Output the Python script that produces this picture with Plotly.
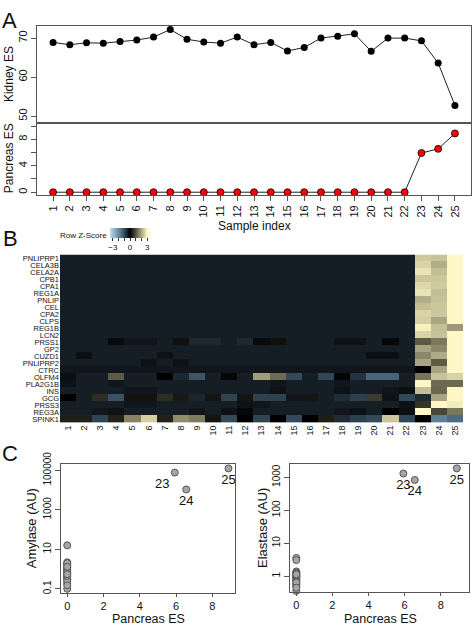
import plotly.graph_objects as go

W, H = 472, 628
FONT = "Liberation Sans, Arial, sans-serif"

# ---------------- data ----------------
samples = list(range(1, 26))
kidney_es = [68.9, 68.3, 68.8, 68.7, 69.1, 69.5, 70.25, 72.2, 69.7, 69.0, 68.7, 70.25, 68.3,
             68.9, 66.7, 67.6, 70.0, 70.5, 71.1, 66.6, 70.0, 70.0, 69.3, 63.6, 52.75]
pancreas_es = [0, 0, 0, 0, 0, 0, 0, 0, 0, 0, 0, 0, 0, 0, 0, 0, 0, 0, 0, 0, 0, 0, 5.93, 6.56, 8.89]

genes = ["PNLIPRP1", "CELA3B", "CELA2A", "CPB1", "CPA1", "REG1A", "PNLIP", "CEL", "CPA2", "CLPS",
         "REG1B", "LCN2", "PRSS1", "GP2", "CUZD1", "PNLIPRP2", "CTRC", "OLFM4", "PLA2G1B", "INS",
         "GCG", "PRSS3", "REG3A", "SPINK1"]

z_PNLIPRP1 = [-.4,-.4,-.4,-.4,-.4,-.4,-.4,-.4,-.4,-.4,-.4,-.4,-.4,-.4,-.4,-.4,-.4,-.4,-.4,-.4,-.4,-.4,2.43,2.35,3]
z_CELA3B   = [-.4,-.4,-.4,-.4,-.4,-.4,-.4,-.4,-.4,-.4,-.4,-.4,-.4,-.4,-.4,-.4,-.4,-.4,-.4,-.4,-.4,-.4,2.55,2.1,3]
z_CELA2A   = [-.4,-.4,-.4,-.4,-.4,-.4,-.4,-.4,-.4,-.4,-.4,-.4,-.4,-.4,-.4,-.4,-.4,-.4,-.4,-.4,-.4,-.4,2.75,2.3,3]
z_CPB1     = [-.4,-.4,-.4,-.4,-.4,-.4,-.4,-.4,-.4,-.4,-.4,-.4,-.4,-.4,-.4,-.4,-.4,-.4,-.4,-.4,-.4,-.4,2.4,2.4,3]
z_CPA1     = [-.4,-.4,-.4,-.4,-.4,-.4,-.4,-.4,-.4,-.4,-.4,-.4,-.4,-.4,-.4,-.4,-.4,-.4,-.4,-.4,-.4,-.4,2.6,2.45,3]
z_REG1A    = [-.4,-.4,-.4,-.4,-.4,-.4,-.4,-.4,-.4,-.4,-.4,-.4,-.4,-.4,-.4,-.4,-.4,-.4,-.4,-.4,-.4,-.4,2.75,2.3,3]
z_PNLIP    = [-.4,-.4,-.4,-.4,-.4,-.4,-.4,-.4,-.4,-.4,-.4,-.4,-.4,-.4,-.4,-.4,-.4,-.4,-.4,-.4,-.4,-.4,2.1,2.35,3]
z_CEL      = [-.4,-.4,-.4,-.4,-.4,-.4,-.4,-.4,-.4,-.4,-.4,-.4,-.4,-.4,-.4,-.4,-.4,-.4,-.4,-.4,-.4,-.4,2.3,2.4,3]
z_CPA2     = [-.4,-.4,-.4,-.4,-.4,-.4,-.4,-.4,-.4,-.4,-.4,-.4,-.4,-.4,-.4,-.4,-.4,-.4,-.4,-.4,-.4,-.4,2.55,2.4,3]
z_CLPS     = [-.4,-.4,-.4,-.4,-.4,-.4,-.4,-.4,-.4,-.4,-.4,-.4,-.4,-.4,-.4,-.4,-.4,-.4,-.4,-.4,-.4,-.4,2.5,2.0,3]
z_REG1B    = [-.4,-.4,-.4,-.4,-.4,-.4,-.4,-.4,-.4,-.4,-.4,-.4,-.4,-.4,-.4,-.4,-.4,-.4,-.4,-.4,-.4,-.4,2.9,2.3,1.85]
z_LCN2     = [-.4,-.4,-.4,-.4,-.4,-.4,-.4,-.4,-.4,-.4,-.4,-.4,-.4,-.4,-.4,-.4,-.4,-.4,-.4,-.4,-.4,-.4,2.55,2.35,3]
z_PRSS1    = [-.4,-.4,-.4,-.15,-.3,-.3,-.4,.2,-.55,-.55,-.4,-.55,-.15,.2,-.4,-.4,-.4,-.25,-.25,-.4,-.1,-.4,1.09,1.45,3]
z_GP2      = [-.4,-.4,-.4,-.4,-.4,-.4,-.4,-.4,-.4,-.4,-.4,-.4,-.4,-.4,-.4,-.4,-.4,-.4,-.4,-.4,-.4,-.4,1.98,1.64,3]
z_CUZD1    = [-.4,-.2,-.4,-.4,-.4,-.4,-.25,-.4,-.4,-.4,-.4,-.4,-.4,-.4,-.4,-.4,-.4,-.4,-.4,-.2,-.2,-.4,1.64,2.07,3]
z_PNLIPRP2 = [-.4,-.4,-.4,-.4,-.4,-.25,-.4,-.25,-.4,-.4,-.4,-.4,-.4,-.4,-.4,-.4,-.4,-.4,-.4,-.4,-.4,-.4,1.99,1.1,3]
z_CTRC     = [-.3,-.3,-.3,-.3,-.3,-.3,-.3,-.3,-.3,-.3,-.3,-.3,-.3,-.3,-.3,-.3,-.3,-.3,-.3,-.3,-.3,-.3,0,1.98,3]
z_OLFM4    = [-.2,-.4,-.4,1.1,-.4,-.4,0,-.55,-1.15,-.4,-.1,-.4,1.9,1.3,-.99,-.4,-.95,-.05,-.69,-1.36,-1.36,-.4,1.4,2.35,2.54]
z_PLA2G1B  = [-.25,-.4,-.4,-.3,-.4,-.4,-.4,-.4,-.4,-.4,-.4,-.4,-.4,-.3,-.4,-.4,-.4,-.3,-.4,-.4,-.4,-.4,3,1.29,1.29]
z_INS      = [-.4,-.4,-.4,-.4,-.3,-.3,-.4,-.4,-.4,-.4,-.4,-.4,-.4,-.25,-.4,-.4,-.4,-.25,-.4,-.4,-.3,-.2,2.3,1.25,3]
z_GCG      = [0,-.4,.55,-1.1,.22,.22,.55,.3,-.5,.26,-.9,.25,-.88,-.88,-.3,.25,-.4,-.6,-.85,.71,-.25,-.95,-.57,1.98,3]
z_PRSS3    = [-.4,-.4,-.4,-.4,-.3,-.3,-.4,-.4,-.4,-.4,-.4,-.25,-.3,-.4,-.4,-.4,-.4,-.4,-.4,-.4,-.4,-.25,.62,3,2.85]
z_REG3A    = [-.4,-.4,-.3,-.25,-.4,-.4,-.4,-.4,-.3,-.4,-.25,-.1,-.4,-.4,-.4,-.4,-.4,-.3,-.25,-.4,0,-.2,3,.87,1.45]
z_SPINK1   = [.38,.38,-.93,.4,1.6,2.5,.4,1.7,1.5,.25,-.99,0,-.93,0,-.99,0,.35,-.6,-.85,-.99,2.4,-.95,0,-1.8,-1.45]

amylase = [16, 2.2, 1.8, 1.2, 0.9, 0.6, 0.5, 0.35, 0.2, 0.1, 1.5, 0.8, 0.4, 2.0, 1.0, 0.7, 0.3,
           0.25, 1.3, 0.45, 0.55, 0.15, 77000, 10700, 125000]
elastase = [3.6, 3.1, 1.4, 1.25, 1.1, 1.0, 0.9, 0.8, 0.7, 0.5, 0.36, 1.3, 0.95, 0.6, 1.2, 0.85,
            0.75, 0.55, 1.05, 0.65, 0.45, 1.15, 1300, 830, 1860]
labelled = ["", "", "", "", "", "", "", "", "", "", "", "", "", "", "", "", "", "", "", "", "",
            "", "23", "24", "25"]

# ---------------- helpers ----------------
def dx(a, b):
    return [a / W, b / W]

def dy(top, bottom):
    return [1 - bottom / H, 1 - top / H]

LINE = "#555555"
base_axis = dict(showgrid=False, zeroline=False, showline=True, linecolor=LINE, linewidth=1,
                 mirror=True, ticks="outside", ticklen=5, tickcolor=LINE,
                 tickfont=dict(family=FONT, size=11, color="#111"))

zmat = [z_PNLIPRP1, z_CELA3B, z_CELA2A, z_CPB1, z_CPA1, z_REG1A, z_PNLIP, z_CEL, z_CPA2, z_CLPS,
        z_REG1B, z_LCN2, z_PRSS1, z_GP2, z_CUZD1, z_PNLIPRP2, z_CTRC, z_OLFM4, z_PLA2G1B, z_INS,
        z_GCG, z_PRSS3, z_REG3A, z_SPINK1]

ZMIN, ZMAX = -3.5, 3.5
def pos(z):
    return (z - ZMIN) / (ZMAX - ZMIN)
colorscale = [[pos(-3.5), "#b8e0f4"], [pos(-1.5), "#4e6f87"], [pos(0), "#000000"],
              [pos(1.5), "#7f7b60"], [pos(3.0), "#fff8c6"], [pos(3.5), "#fffad2"]]

fig = go.Figure()

# Panel A
fig.add_trace(go.Scatter(x=samples, y=kidney_es, mode="lines+markers",
                         line=dict(color="#222", width=1),
                         marker=dict(color="black", size=7),
                         xaxis="x", yaxis="y", showlegend=False, cliponaxis=False))
fig.add_trace(go.Scatter(x=samples, y=pancreas_es, mode="lines+markers",
                         line=dict(color="#222", width=1),
                         marker=dict(color="#ff0000", size=7, line=dict(color="black", width=0.8)),
                         xaxis="x2", yaxis="y2", showlegend=False, cliponaxis=False))

# Panel B heatmap
fig.add_trace(go.Heatmap(x=samples, y=list(range(len(genes))), z=zmat,
                         colorscale=colorscale, zmin=ZMIN, zmax=ZMAX,
                         xaxis="x3", yaxis="y3",
                         colorbar=dict(orientation="h", x=110 / W, xanchor="left",
                                       y=1 - 220 / H, yanchor="top",
                                       len=40, lenmode="pixels", thickness=10,
                                       outlinewidth=0, xpad=0, ypad=0,
                                       tickvals=[-3, -2, -1, 0, 1, 2, 3],
                                       ticktext=["\u22123", "", "", "0", "", "", "3"],
                                       ticks="outside", ticklen=3, tickcolor="#333",
                                       tickfont=dict(family=FONT, size=8, color="#111"))))

# Panel C
fig.add_trace(go.Scatter(x=pancreas_es, y=amylase, mode="markers+text", text=labelled,
                         textposition=["bottom center"] * 22 + ["bottom left", "bottom center", "bottom center"],
                         textfont=dict(family=FONT, size=13, color="#111"),
                         marker=dict(color="#a6a6a6", size=7, line=dict(color="#555", width=1)),
                         xaxis="x5", yaxis="y5", showlegend=False, cliponaxis=False))
fig.add_trace(go.Scatter(x=pancreas_es, y=elastase, mode="markers+text", text=labelled,
                         textposition="bottom center",
                         textfont=dict(family=FONT, size=13, color="#111"),
                         marker=dict(color="#a6a6a6", size=7, line=dict(color="#555", width=1)),
                         xaxis="x6", yaxis="y6", showlegend=False, cliponaxis=False))

layout = dict(width=W, height=H, margin=dict(l=0, r=0, t=0, b=0),
              paper_bgcolor="white", plot_bgcolor="white",
              font=dict(family=FONT, size=11, color="#111"), showlegend=False)

# A axes
layout["xaxis"] = dict(base_axis, domain=dx(37, 471), range=[0.04, 25.96], anchor="y",
                       showticklabels=False, ticks="")
layout["yaxis"] = dict(base_axis, domain=dy(13.3, 112.3), range=[48.3, 73.1], anchor="x",
                       tickvals=[50, 60, 70], tickangle=-90)
layout["xaxis2"] = dict(base_axis, domain=dx(37, 471), range=[0.04, 25.96], anchor="y2",
                        tickvals=samples, tickangle=-90)
layout["yaxis2"] = dict(base_axis, domain=dy(112.3, 186), range=[-0.4, 10.5], anchor="x2",
                        tickvals=[0, 2, 4, 6, 8, 10], ticktext=["0", "", "4", "", "8", ""],
                        tickangle=-90)

# B axes
layout["xaxis3"] = dict(domain=dx(60, 463), range=[0.5, 25.5], anchor="y3", showgrid=False,
                        zeroline=False, showline=False, tickvals=samples, tickangle=-90,
                        ticks="", tickfont=dict(family=FONT, size=9, color="#111"))
layout["yaxis3"] = dict(domain=dy(247, 419), range=[len(genes) - 0.5, -0.5], anchor="x3",
                        showgrid=False, zeroline=False, showline=False,
                        tickvals=list(range(len(genes))), ticktext=genes, ticks="",
                        tickfont=dict(family=FONT, size=7.5, color="#111"))

# C axes
cx_font = dict(family=FONT, size=11, color="#111")
layout["xaxis5"] = dict(base_axis, domain=dx(60.7, 235), range=[-0.36, 9.25], anchor="y5",
                        tickvals=[0, 2, 4, 6, 8], ticklen=3, tickfont=cx_font)
layout["yaxis5"] = dict(base_axis, domain=dy(461.7, 593), type="log", range=[-1.2, 5.3],
                        anchor="x5", tickvals=[0.1, 10, 1000, 100000],
                        ticktext=["0.1", "10", "1000", "100000"], tickangle=-90,
                        tickfont=dict(family=FONT, size=10, color="#111"))
layout["xaxis6"] = dict(base_axis, domain=dx(290, 469.3), range=[-0.35, 9.58], anchor="y6",
                        tickvals=[0, 2, 4, 6, 8], ticklen=3, tickfont=cx_font)
layout["yaxis6"] = dict(base_axis, domain=dy(461.7, 592), type="log", range=[-0.47, 3.39],
                        anchor="x6", tickvals=[1, 10, 100, 1000],
                        ticktext=["1", "10", "100", "1000"], tickangle=-90,
                        tickfont=dict(family=FONT, size=10, color="#111"))

def ann(text, x, y, size, angle=0, xanchor="center", yanchor="middle"):
    return dict(text=text, x=x / W, y=1 - y / H, xref="paper", yref="paper",
                xanchor=xanchor, yanchor=yanchor, showarrow=False, textangle=angle,
                borderpad=0, font=dict(family=FONT, size=size, color="#111"))

layout["annotations"] = [
    ann("A", 9, 8, 22), ann("B", 10, 231, 22), ann("C", 10, 451, 22),
    ann("Kidney ES", 8.5, 63, 12, -90),
    ann("Pancreas ES", 8.5, 149, 12, -90),
    ann("Sample index", 254, 218, 12),
    ann("Row Z-Score", 59, 228, 8, xanchor="left"),
    ann("Amylase (AU)", 31, 527, 13, -90),
    ann("Pancreas ES", 148, 628, 12.5, yanchor="bottom"),
    ann("Elastase (AU)", 262.7, 527, 13, -90),
    ann("Pancreas ES", 380, 628, 12.5, yanchor="bottom"),
]

fig.update_layout(**layout)

pin_script = (
    "document.documentElement.style.margin='0';"
    "document.body.style.margin='0';document.body.style.padding='0';"
    "document.body.style.overflow='hidden';"
    "var gd=document.getElementById('{plot_id}');"
    "gd.style.position='fixed';gd.style.left='0px';gd.style.top='0px';"
)
fig.write_html("out.html", post_script=pin_script, config={"displayModeBar": False})
